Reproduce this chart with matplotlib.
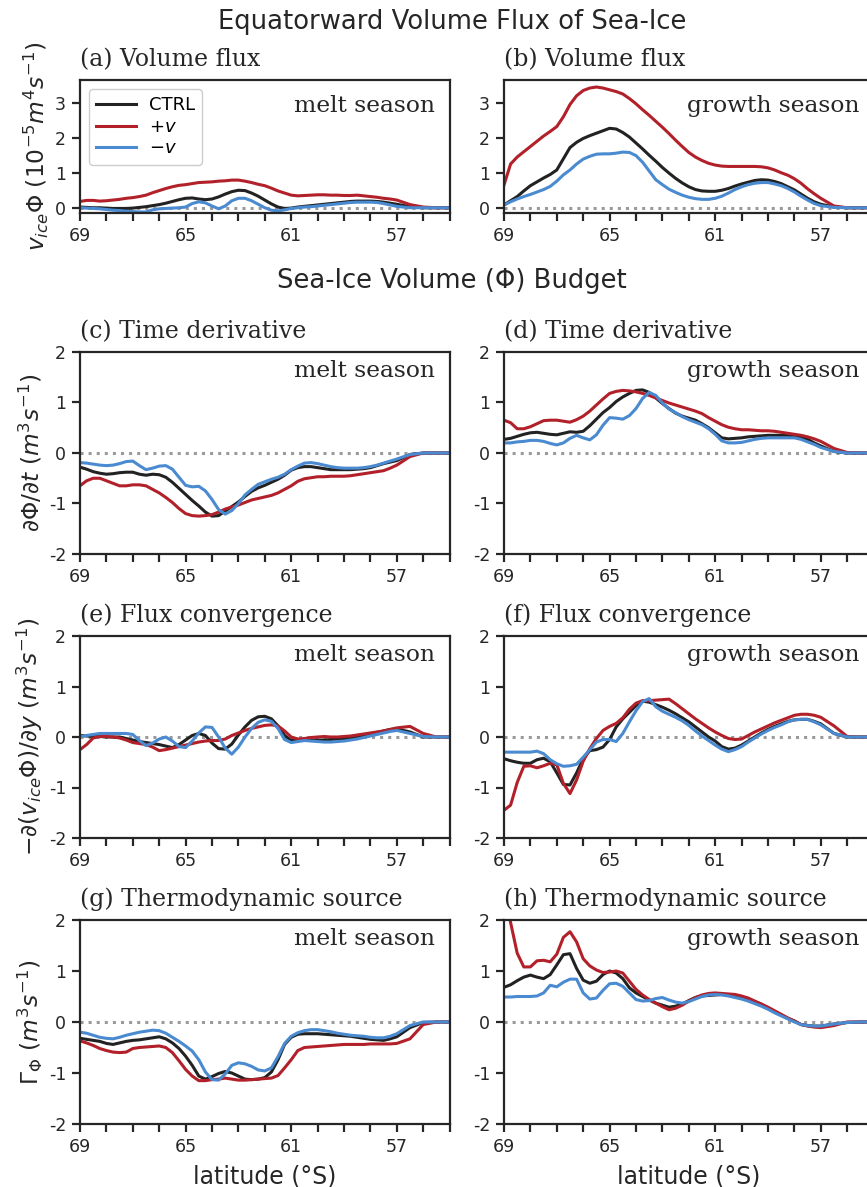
import numpy as np
import matplotlib
matplotlib.use("Agg")
import matplotlib.pyplot as plt

plt.rcParams["font.family"] = "DejaVu Sans"
plt.rcParams["mathtext.fontset"] = "dejavusans"
plt.rcParams["axes.unicode_minus"] = False

# latitude grid (deg S): 0.25 deg steps down to 57, then 0.5 deg
lat = np.concatenate([np.arange(69, 56.9, -0.25), [56.5, 56, 55.5, 55]])

# (a) volume flux, melt season (1e-5 m^4/s)
flux_melt_ctrl = [0.02, 0.01, 0.0, 0.0, -0.01, -0.02, -0.02, -0.02, -0.01, 0.01, 0.03, 0.06,
                  0.09, 0.13, 0.18, 0.23, 0.27, 0.28, 0.25, 0.23, 0.25, 0.31, 0.39, 0.46,
                  0.5, 0.49, 0.42, 0.33, 0.22, 0.11, 0.02, -0.02, -0.01, 0.02, 0.04, 0.06,
                  0.08, 0.1, 0.12, 0.14, 0.16, 0.18, 0.19, 0.19, 0.19, 0.18, 0.16, 0.13,
                  0.1, 0.03, 0.0, 0, 0]
flux_melt_plus = [0.18, 0.21, 0.21, 0.19, 0.2, 0.22, 0.24, 0.27, 0.29, 0.32, 0.36, 0.43,
                  0.49, 0.55, 0.6, 0.64, 0.66, 0.69, 0.72, 0.73, 0.74, 0.76, 0.77, 0.79,
                  0.79, 0.76, 0.72, 0.67, 0.63, 0.56, 0.48, 0.42, 0.36, 0.34, 0.35, 0.36,
                  0.37, 0.37, 0.36, 0.36, 0.35, 0.35, 0.36, 0.34, 0.32, 0.3, 0.27, 0.25,
                  0.22, 0.09, 0.02, 0, 0]
flux_melt_minus = [0.0, -0.01, -0.02, -0.03, -0.05, -0.07, -0.08, -0.1, -0.11, -0.12, -0.12, -0.06,
                   -0.03, -0.02, -0.01, 0.0, 0.02, 0.12, 0.17, 0.14, 0.05, -0.03, 0.05, 0.2,
                   0.27, 0.27, 0.2, 0.1, 0.0, -0.07, -0.09, -0.06, -0.02, 0.0, 0.02, 0.03,
                   0.05, 0.07, 0.09, 0.11, 0.13, 0.15, 0.16, 0.16, 0.16, 0.15, 0.12, 0.08,
                   0.04, 0.0, 0, 0, 0]

# (b) volume flux, growth season
flux_growth_ctrl = [0.08, 0.2, 0.32, 0.48, 0.63, 0.74, 0.85, 0.95, 1.08, 1.4, 1.72, 1.87,
                    1.98, 2.06, 2.13, 2.2, 2.27, 2.25, 2.15, 2.02, 1.85, 1.68, 1.5, 1.33,
                    1.15, 0.99, 0.84, 0.71, 0.6, 0.52, 0.48, 0.47, 0.47, 0.5, 0.55, 0.62,
                    0.68, 0.73, 0.78, 0.8, 0.79, 0.75, 0.69, 0.6, 0.51, 0.39, 0.27, 0.17,
                    0.1, 0.02, 0.0, 0, 0]
flux_growth_plus = [0.65, 1.25, 1.45, 1.6, 1.75, 1.9, 2.05, 2.18, 2.32, 2.6, 2.95, 3.2,
                    3.35, 3.42, 3.45, 3.42, 3.37, 3.32, 3.25, 3.12, 2.97, 2.8, 2.64, 2.47,
                    2.3, 2.12, 1.93, 1.75, 1.58, 1.45, 1.35, 1.27, 1.22, 1.19, 1.18, 1.18,
                    1.18, 1.18, 1.18, 1.17, 1.14, 1.08, 1.0, 0.93, 0.83, 0.7, 0.54, 0.4,
                    0.27, 0.05, 0.0, 0, 0]
flux_growth_minus = [0.08, 0.17, 0.25, 0.32, 0.38, 0.45, 0.52, 0.61, 0.76, 0.94, 1.08, 1.25,
                     1.39, 1.47, 1.53, 1.54, 1.54, 1.56, 1.59, 1.58, 1.49, 1.3, 1.05, 0.8,
                     0.66, 0.53, 0.44, 0.36, 0.3, 0.26, 0.24, 0.24, 0.27, 0.33, 0.42, 0.52,
                     0.6, 0.66, 0.7, 0.72, 0.72, 0.68, 0.63, 0.55, 0.45, 0.33, 0.22, 0.12,
                     0.06, 0.01, 0, 0, 0]

# (c) time derivative, melt season (m^3/s)
dt_melt_ctrl = [-0.28, -0.32, -0.37, -0.4, -0.42, -0.41, -0.39, -0.38, -0.38, -0.42, -0.44, -0.42,
                -0.43, -0.48, -0.58, -0.7, -0.82, -0.94, -1.05, -1.17, -1.25, -1.24, -1.15, -1.06,
                -0.97, -0.86, -0.76, -0.69, -0.64, -0.58, -0.52, -0.44, -0.34, -0.29, -0.27, -0.27,
                -0.29, -0.31, -0.33, -0.33, -0.33, -0.33, -0.32, -0.31, -0.29, -0.25, -0.21, -0.18,
                -0.15, -0.03, 0.0, 0, 0]
dt_melt_plus = [-0.65, -0.55, -0.5, -0.5, -0.55, -0.6, -0.65, -0.65, -0.63, -0.63, -0.65, -0.72,
                -0.79, -0.88, -0.98, -1.1, -1.2, -1.24, -1.25, -1.24, -1.22, -1.17, -1.11, -1.07,
                -1.03, -0.98, -0.93, -0.9, -0.87, -0.84, -0.79, -0.72, -0.65, -0.56, -0.51, -0.49,
                -0.47, -0.47, -0.46, -0.46, -0.46, -0.45, -0.43, -0.41, -0.39, -0.37, -0.35, -0.3,
                -0.24, -0.07, 0, 0, 0]
dt_melt_minus = [-0.19, -0.2, -0.22, -0.24, -0.25, -0.24, -0.21, -0.17, -0.16, -0.25, -0.33, -0.3,
                 -0.26, -0.25, -0.32, -0.48, -0.64, -0.67, -0.66, -0.75, -0.92, -1.12, -1.21, -1.14,
                 -1.0, -0.83, -0.72, -0.62, -0.57, -0.52, -0.48, -0.42, -0.33, -0.26, -0.2, -0.19,
                 -0.21, -0.24, -0.27, -0.29, -0.3, -0.3, -0.3, -0.29, -0.27, -0.24, -0.2, -0.16,
                 -0.12, -0.03, 0, 0, 0]

# (d) time derivative, growth season
dt_growth_ctrl = [0.27, 0.29, 0.33, 0.37, 0.4, 0.41, 0.39, 0.37, 0.36, 0.39, 0.42, 0.41,
                  0.43, 0.54, 0.67, 0.8, 0.9, 1.02, 1.11, 1.18, 1.24, 1.25, 1.2, 1.09,
                  0.98, 0.88, 0.79, 0.73, 0.69, 0.65, 0.58, 0.5, 0.4, 0.3, 0.28, 0.29,
                  0.3, 0.32, 0.33, 0.34, 0.35, 0.35, 0.35, 0.35, 0.34, 0.32, 0.27, 0.2,
                  0.14, 0.03, 0.0, 0, 0]
dt_growth_plus = [0.65, 0.6, 0.48, 0.48, 0.52, 0.58, 0.64, 0.65, 0.65, 0.63, 0.61, 0.66,
                  0.73, 0.83, 0.95, 1.07, 1.18, 1.22, 1.24, 1.23, 1.21, 1.18, 1.14, 1.09,
                  1.04, 0.99, 0.95, 0.91, 0.87, 0.83, 0.78, 0.7, 0.63, 0.56, 0.51, 0.48,
                  0.46, 0.46, 0.45, 0.44, 0.44, 0.43, 0.41, 0.39, 0.37, 0.35, 0.32, 0.28,
                  0.23, 0.09, 0.01, 0, 0]
dt_growth_minus = [0.2, 0.2, 0.22, 0.23, 0.25, 0.25, 0.23, 0.19, 0.16, 0.2, 0.29, 0.35,
                   0.3, 0.26, 0.36, 0.55, 0.7, 0.69, 0.67, 0.74, 0.88, 1.08, 1.2, 1.14,
                   0.99, 0.87, 0.8, 0.72, 0.66, 0.61, 0.56, 0.48, 0.37, 0.24, 0.2, 0.2,
                   0.21, 0.24, 0.27, 0.29, 0.3, 0.3, 0.3, 0.3, 0.3, 0.27, 0.22, 0.17,
                   0.11, 0.03, 0.0, 0, 0]

# (e) flux convergence, melt season
conv_melt_ctrl = [0.03, 0.02, 0.01, 0.01, 0.0, 0.0, 0.0, -0.03, -0.06, -0.09, -0.11, -0.13,
                  -0.15, -0.18, -0.21, -0.15, -0.06, 0.03, 0.07, 0.03, -0.12, -0.23, -0.24, -0.14,
                  0.04, 0.2, 0.33, 0.4, 0.41, 0.36, 0.22, 0.03, -0.07, -0.07, -0.06, -0.06,
                  -0.06, -0.06, -0.05, -0.04, -0.03, -0.02, 0.0, 0.03, 0.06, 0.09, 0.12, 0.15,
                  0.16, 0.1, 0.0, 0, 0]
conv_melt_plus = [-0.25, -0.15, -0.02, 0.01, 0.01, 0.0, -0.02, -0.06, -0.11, -0.13, -0.15, -0.2,
                  -0.27, -0.25, -0.22, -0.19, -0.16, -0.13, -0.1, -0.08, -0.07, -0.07, -0.04, 0.03,
                  0.08, 0.13, 0.17, 0.2, 0.23, 0.24, 0.22, 0.12, 0.0, -0.04, -0.03, -0.01,
                  0.0, 0.01, 0.0, 0.0, 0.01, 0.02, 0.04, 0.06, 0.08, 0.1, 0.12, 0.15,
                  0.18, 0.21, 0.07, 0, 0]
conv_melt_minus = [0.01, 0.03, 0.05, 0.07, 0.07, 0.07, 0.07, 0.07, 0.05, -0.07, -0.17, -0.12,
                   -0.04, 0.0, -0.08, -0.19, -0.21, -0.08, 0.08, 0.2, 0.19, 0.0, -0.22, -0.34,
                   -0.2, 0.0, 0.17, 0.29, 0.34, 0.31, 0.17, -0.05, -0.11, -0.09, -0.07, -0.08,
                   -0.09, -0.1, -0.1, -0.09, -0.08, -0.06, -0.04, -0.01, 0.02, 0.05, 0.08, 0.11,
                   0.13, 0.07, 0.01, 0, 0]

# (f) flux convergence, growth season
conv_growth_ctrl = [-0.43, -0.47, -0.5, -0.52, -0.52, -0.45, -0.42, -0.49, -0.71, -0.94, -0.95, -0.71,
                    -0.43, -0.27, -0.25, -0.2, -0.05, 0.2, 0.36, 0.49, 0.62, 0.71, 0.69, 0.64,
                    0.59, 0.53, 0.46, 0.38, 0.3, 0.2, 0.1, 0.0, -0.08, -0.19, -0.24, -0.22,
                    -0.16, -0.08, 0.0, 0.08, 0.15, 0.21, 0.26, 0.31, 0.34, 0.35, 0.35, 0.31,
                    0.26, 0.07, 0.0, 0, 0]
conv_growth_plus = [-1.45, -1.35, -0.9, -0.58, -0.57, -0.61, -0.57, -0.52, -0.55, -0.92, -1.12, -0.85,
                    -0.48, -0.23, -0.03, 0.13, 0.21, 0.27, 0.38, 0.55, 0.67, 0.72, 0.72, 0.73,
                    0.74, 0.75, 0.66, 0.56, 0.46, 0.36, 0.27, 0.18, 0.1, 0.03, -0.03, -0.05,
                    -0.04, 0.03, 0.1, 0.16, 0.22, 0.28, 0.33, 0.38, 0.43, 0.45, 0.45, 0.43,
                    0.39, 0.22, 0.01, 0, 0]
conv_growth_minus = [-0.3, -0.3, -0.3, -0.3, -0.3, -0.28, -0.33, -0.45, -0.53, -0.58, -0.57, -0.54,
                     -0.4, -0.25, -0.1, -0.05, -0.05, -0.09, 0.07, 0.3, 0.52, 0.7, 0.76, 0.6,
                     0.51, 0.45, 0.39, 0.32, 0.23, 0.12, 0.02, -0.07, -0.16, -0.24, -0.29, -0.25,
                     -0.19, -0.1, -0.02, 0.06, 0.13, 0.19, 0.24, 0.3, 0.34, 0.35, 0.35, 0.3,
                     0.24, 0.07, 0.0, 0, 0]

# (g) thermodynamic source, melt season
src_melt_ctrl = [-0.32, -0.34, -0.36, -0.38, -0.42, -0.44, -0.41, -0.38, -0.36, -0.35, -0.33, -0.31,
                 -0.29, -0.33, -0.41, -0.52, -0.67, -0.85, -1.06, -1.12, -1.07, -1.01, -0.97, -1.0,
                 -1.06, -1.12, -1.13, -1.12, -1.09, -0.98, -0.74, -0.44, -0.3, -0.24, -0.23, -0.23,
                 -0.23, -0.24, -0.25, -0.26, -0.27, -0.28, -0.3, -0.32, -0.34, -0.35, -0.36, -0.33,
                 -0.29, -0.11, -0.01, 0, 0]
src_melt_plus = [-0.37, -0.41, -0.46, -0.52, -0.56, -0.59, -0.6, -0.59, -0.52, -0.5, -0.49, -0.48,
                 -0.47, -0.5, -0.6, -0.76, -0.93, -1.06, -1.15, -1.15, -1.13, -1.12, -1.1, -1.12,
                 -1.14, -1.14, -1.13, -1.12, -1.11, -1.1, -1.05, -0.9, -0.74, -0.56, -0.5, -0.49,
                 -0.48, -0.47, -0.46, -0.45, -0.44, -0.44, -0.44, -0.44, -0.43, -0.43, -0.43, -0.43,
                 -0.42, -0.33, -0.05, 0, 0]
src_melt_minus = [-0.2, -0.22, -0.26, -0.3, -0.32, -0.33, -0.3, -0.26, -0.23, -0.2, -0.18, -0.16,
                  -0.17, -0.22, -0.3, -0.38, -0.47, -0.57, -0.74, -0.98, -1.13, -1.14, -1.02, -0.85,
                  -0.8, -0.82, -0.87, -0.94, -0.96, -0.9, -0.68, -0.42, -0.28, -0.21, -0.17, -0.15,
                  -0.15, -0.17, -0.19, -0.22, -0.24, -0.26, -0.27, -0.28, -0.3, -0.31, -0.31, -0.28,
                  -0.23, -0.07, 0.0, 0, 0]

# (h) thermodynamic source, growth season
src_growth_ctrl = [0.68, 0.73, 0.81, 0.88, 0.92, 0.88, 0.85, 0.93, 1.12, 1.32, 1.34, 1.05,
                   0.82, 0.76, 0.8, 0.93, 1.0, 0.96, 0.85, 0.67, 0.57, 0.5, 0.43, 0.37,
                   0.33, 0.29, 0.31, 0.35, 0.42, 0.48, 0.51, 0.52, 0.53, 0.54, 0.53, 0.52,
                   0.49, 0.45, 0.4, 0.35, 0.28, 0.21, 0.14, 0.07, 0.02, -0.05, -0.07, -0.08,
                   -0.08, -0.04, -0.01, 0, 0]
src_growth_plus = [2.6, 1.95, 1.35, 1.08, 1.08, 1.2, 1.21, 1.18, 1.33, 1.66, 1.77, 1.57,
                   1.24, 1.1, 1.02, 0.97, 0.98, 1.0, 0.96, 0.8, 0.64, 0.53, 0.44, 0.37,
                   0.3, 0.24, 0.27, 0.33, 0.41, 0.48, 0.53, 0.56, 0.57, 0.56, 0.55, 0.54,
                   0.51, 0.47, 0.41, 0.35, 0.29, 0.22, 0.15, 0.08, 0.02, -0.05, -0.08, -0.1,
                   -0.11, -0.07, 0.0, 0, 0]
src_growth_minus = [0.49, 0.49, 0.5, 0.5, 0.5, 0.51, 0.57, 0.72, 0.69, 0.78, 0.84, 0.84,
                    0.57, 0.45, 0.47, 0.62, 0.75, 0.76, 0.7, 0.57, 0.44, 0.41, 0.42, 0.46,
                    0.48, 0.43, 0.39, 0.37, 0.4, 0.45, 0.5, 0.53, 0.54, 0.53, 0.51, 0.48,
                    0.45, 0.41, 0.36, 0.31, 0.25, 0.18, 0.12, 0.06, 0.0, -0.05, -0.07, -0.08,
                    -0.08, -0.04, -0.01, 0, 0]

run_labels = ["CTRL", r"$+v$", r"$-v$"]
run_colors = ["#222222", "#b2202a", "#4a8ad0"]

tick_lats = list(range(69, 54, -1))
tick_labels = ["69", "", "", "", "65", "", "", "", "61", "", "", "", "57", "", ""]

panel_titles = ["(a) Volume flux", "(b) Volume flux",
                "(c) Time derivative", "(d) Time derivative",
                "(e) Flux convergence", "(f) Flux convergence",
                "(g) Thermodynamic source", "(h) Thermodynamic source"]
seasons = ["melt season", "growth season"]
ylabels = [r"$v_{ice}\Phi$ $(10^{-5}m^4s^{-1})$",
           r"$\partial\Phi/\partial t$ $(m^3s^{-1})$",
           r"$-\partial(v_{ice}\Phi)/\partial y$ $(m^3s^{-1})$",
           r"$\Gamma_\Phi$ $(m^3s^{-1})$"]

panels = [
    [flux_melt_ctrl, flux_melt_plus, flux_melt_minus], [flux_growth_ctrl, flux_growth_plus, flux_growth_minus],
    [dt_melt_ctrl, dt_melt_plus, dt_melt_minus], [dt_growth_ctrl, dt_growth_plus, dt_growth_minus],
    [conv_melt_ctrl, conv_melt_plus, conv_melt_minus], [conv_growth_ctrl, conv_growth_plus, conv_growth_minus],
    [src_melt_ctrl, src_melt_plus, src_melt_minus], [src_growth_ctrl, src_growth_plus, src_growth_minus],
]

# layout in pixels
W, H = 867, 1187
col_left = [80, 504]
col_width = 369.6
row_top = [80, 352, 636, 920]
row_height = [133, 202, 202, 204]
dark = "#262626"

fig = plt.figure(figsize=(W / 100, H / 100), dpi=100)

for i, series in enumerate(panels):
    row, col = divmod(i, 2)
    left, top = col_left[col], row_top[row]
    ax = fig.add_axes([left / W, 1 - (top + row_height[row]) / H, col_width / W, row_height[row] / H])
    ax.axhline(0, color="#9a9a9a", ls=":", lw=2.2, zorder=1)
    for vals, c, lab in zip(series, run_colors, run_labels):
        ax.plot(lat, vals, color=c, lw=2.2, label=lab, zorder=2)
    ax.set_xlim(69, 55)
    if row == 0:
        ax.set_ylim(-0.15, 3.65)
        ax.set_yticks([0, 1, 2, 3])
    else:
        ax.set_ylim(-2, 2)
        ax.set_yticks([-2, -1, 0, 1, 2])
    ax.set_xticks(tick_lats)
    ax.set_xticklabels(tick_labels)
    ax.tick_params(direction="out", length=6, width=1.6, labelsize=12.5, colors=dark, pad=4)
    for sp in ax.spines.values():
        sp.set_linewidth(1.6)
        sp.set_color(dark)
    ax.set_title(panel_titles[i], loc="left", pad=10, fontfamily="DejaVu Serif", fontsize=17, color=dark)
    drop = 32 if row == 0 else 25
    ax.annotate(seasons[col], xy=(1, 1), xycoords="axes fraction", xytext=(-14.6 * 0.72, -drop * 0.72),
                textcoords="offset points", ha="right", va="baseline", fontfamily="DejaVu Serif",
                fontsize=16.8, color=dark)
    if col == 0:
        ax.set_ylabel(ylabels[row], fontsize=16.8, color=dark, labelpad=3)
    if row == 3:
        ax.set_xlabel("latitude (°S)", fontsize=17, color=dark, labelpad=6)
    if i == 0:
        ax.legend(loc="upper left", fontsize=13, handlelength=2.2, handletextpad=0.7,
                  labelspacing=0.2, borderpad=0.4, fancybox=True, edgecolor="#cccccc",
                  framealpha=1)

fig.text(452 / W, 1 - 29 / H, "Equatorward Volume Flux of Sea-Ice", ha="center", va="baseline",
         fontsize=18.6, color=dark)
fig.text(452 / W, 1 - 288 / H, "Sea-Ice Volume (Φ) Budget", ha="center", va="baseline",
         fontsize=18.6, color=dark)

fig.savefig("out.png", dpi=100)
